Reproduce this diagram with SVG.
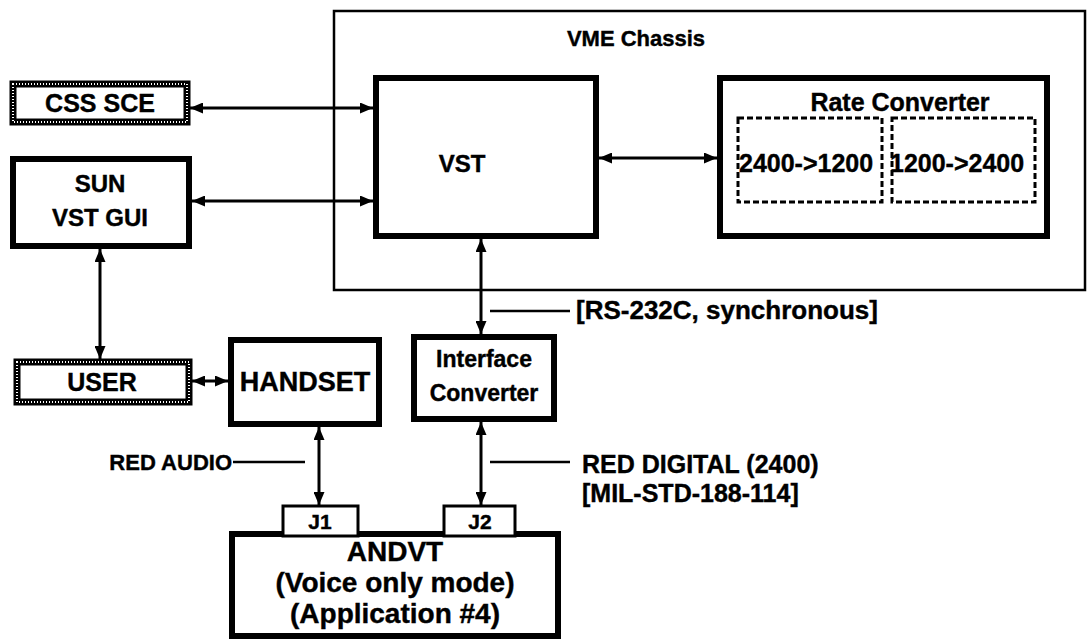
<svg xmlns="http://www.w3.org/2000/svg" width="1088" height="641" viewBox="0 0 1088 641">
<defs>
<style>
text{font-family:"Liberation Sans",Arial,Helvetica,sans-serif;font-weight:bold;fill:#000;stroke:#000;stroke-width:0.4;}
.box{fill:#fff;stroke:#000;stroke-width:6;}
.thin{fill:none;stroke:#000;stroke-width:2.5;}
.jbox{fill:#fff;stroke:#000;stroke-width:3;}
.hatch{fill:#fff;stroke:#000;stroke-width:7;}
.hatch2{fill:none;stroke:#fff;stroke-width:2;stroke-dasharray:1 2;}
.dash{fill:none;stroke:#000;stroke-width:3;stroke-dasharray:6 3;}
.conn{stroke:#000;stroke-width:3;fill:none;}
.lead{stroke:#000;stroke-width:2.5;fill:none;}
.c{text-anchor:middle;}
</style>
<marker id="ah" viewBox="0 0 13 11" refX="13" refY="5.5" markerWidth="13" markerHeight="11" markerUnits="userSpaceOnUse" orient="auto-start-reverse">
<path d="M0,0 L13,5.5 L0,11 Z" fill="#000"/>
</marker>
</defs>
<rect width="1088" height="641" fill="#fff"/>

<g id="chassis">
<rect class="thin" x="334" y="11" width="751" height="279"/>
<text class="c" x="636" y="46" font-size="22">VME Chassis</text>
</g>

<g id="vst">
<rect class="box" x="376" y="78" width="220" height="158"/>
<text class="c" x="462" y="172" font-size="24">VST</text>
</g>

<g id="rate-converter">
<rect class="box" x="720" y="78" width="327" height="158"/>
<text class="c" x="900" y="111" font-size="25">Rate Converter</text>
<rect class="dash" x="738" y="118" width="144" height="84"/>
<rect class="dash" x="892" y="118" width="143" height="84"/>
<text x="739" y="172" font-size="25">2400-&gt;1200</text>
<text x="890" y="172" font-size="25">1200-&gt;2400</text>
</g>

<g id="css-sce">
<rect class="hatch" x="13" y="84" width="174" height="38"/>
<rect class="hatch2" x="13" y="84" width="174" height="38"/>
<text class="c" x="100" y="112" font-size="25">CSS SCE</text>
</g>

<g id="sun-vst-gui">
<rect class="box" x="13" y="159" width="176" height="87"/>
<text class="c" x="100" y="192" font-size="24">SUN</text>
<text class="c" x="100" y="226" font-size="24">VST GUI</text>
</g>

<g id="user">
<rect class="hatch" x="17" y="362" width="172" height="40"/>
<rect class="hatch2" x="17" y="362" width="172" height="40"/>
<text class="c" x="102" y="391" font-size="25">USER</text>
</g>

<g id="handset">
<rect class="box" x="231" y="340" width="148" height="84"/>
<text class="c" x="305" y="391" font-size="27">HANDSET</text>
</g>

<g id="interface-converter">
<rect class="box" x="414" y="337" width="140" height="82"/>
<text class="c" x="484" y="367" font-size="23">Interface</text>
<text class="c" x="484" y="401" font-size="23">Converter</text>
</g>

<g id="andvt">
<rect class="box" x="232" y="534" width="326" height="102"/>
<text class="c" x="395" y="561" font-size="28">ANDVT</text>
<text class="c" x="395" y="592" font-size="28">(Voice only mode)</text>
<text class="c" x="395" y="623" font-size="28">(Application #4)</text>
</g>

<g id="j1">
<rect class="jbox" x="283" y="506" width="75" height="30"/>
<text class="c" x="320" y="529" font-size="21">J1</text>
</g>

<g id="j2">
<rect class="jbox" x="444" y="506" width="71" height="30"/>
<text class="c" x="480" y="529" font-size="21">J2</text>
</g>

<g id="connectors">
<line class="conn" x1="190" y1="108" x2="373" y2="108" marker-start="url(#ah)" marker-end="url(#ah)"/>
<line class="conn" x1="192" y1="201" x2="373" y2="201" marker-start="url(#ah)" marker-end="url(#ah)"/>
<line class="conn" x1="599" y1="158" x2="717" y2="158" marker-start="url(#ah)" marker-end="url(#ah)"/>
<line class="conn" x1="100" y1="249" x2="100" y2="359" marker-start="url(#ah)" marker-end="url(#ah)"/>
<line class="conn" x1="192" y1="381" x2="228" y2="381" marker-start="url(#ah)" marker-end="url(#ah)"/>
<line class="conn" x1="481" y1="239" x2="481" y2="334" marker-start="url(#ah)" marker-end="url(#ah)"/>
<line class="conn" x1="319" y1="427" x2="319" y2="505" marker-start="url(#ah)" marker-end="url(#ah)"/>
<line class="conn" x1="481" y1="422" x2="481" y2="505" marker-start="url(#ah)" marker-end="url(#ah)"/>
<line class="lead" x1="490" y1="311" x2="570" y2="311"/>
<line class="lead" x1="233" y1="462" x2="305" y2="462"/>
<line class="lead" x1="490" y1="462" x2="570" y2="462"/>
</g>

<g id="labels">
<text x="576" y="319" font-size="26">[RS-232C, synchronous]</text>
<text x="232" y="470" font-size="22" text-anchor="end">RED AUDIO</text>
<text x="582" y="473" font-size="25">RED DIGITAL (2400)</text>
<text x="582" y="502" font-size="25">[MIL-STD-188-114]</text>
</g>
</svg>
